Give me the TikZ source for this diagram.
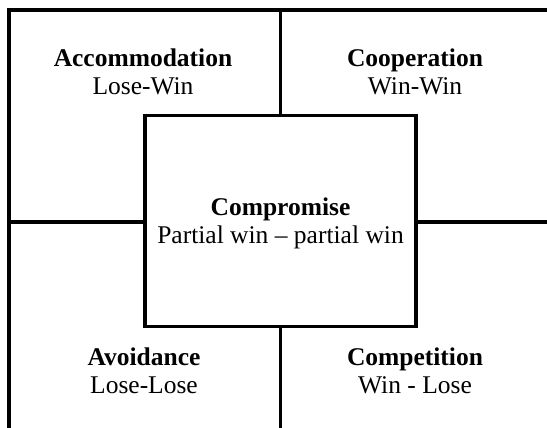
\documentclass[tikz,border=0pt]{standalone}
\usepackage{fontspec}
\setmainfont{Liberation Serif}
\begin{document}
\begin{tikzpicture}[x=1pt,y=-1pt,
  frameline/.style={line width=3.8pt},
  divline/.style={line width=3.4pt},
  title/.style={font=\fontsize{25.5}{28}\selectfont\bfseries, anchor=base, inner sep=0pt},
  sub/.style={font=\fontsize{25.5}{28}\selectfont, anchor=base, inner sep=0pt},
  centerbox/.style={draw, line width=3.4pt, minimum width=271pt, minimum height=211pt, inner sep=0pt}]
\useasboundingbox (0,0) rectangle (547,428);
% outer frame (top and left only)
\coordinate (tl) at (9,9.8);
\coordinate (tr) at (547,9.8);
\coordinate (bl) at (9,428);
\draw[frameline] (tr) -- (tl) -- (bl);
% center box
\node[centerbox] (comp) at (280.5,221.2) {};
% dividers
\coordinate (vtop) at (280.5,9.8);
\coordinate (vbot) at (280.5,428);
\coordinate (hleft) at (9,222);
\coordinate (hright) at (547,222);
\draw[divline] (vtop) -- (comp.north);
\draw[divline] (comp.south) -- (vbot);
\draw[divline] (hleft) -- (comp.west |- hleft);
\draw[divline] (comp.east |- hright) -- (hright);
% texts
\node[title] (accT) at (143,67) {Accommodation};
\node[sub] (accS) at (143,95) {Lose-Win};
\node[title] (coopT) at (415,67) {Cooperation};
\node[sub] (coopS) at (415,95) {Win-Win};
\node[title] (compT) at (280.5,215) {Compromise};
\node[sub] (compS) at (280.5,243) {Partial win – partial win};
\node[title] (avoT) at (144,365) {Avoidance};
\node[sub] (avoS) at (144,393) {Lose-Lose};
\node[title] (cptT) at (415,365) {Competition};
\node[sub] (cptS) at (415,393) {Win - Lose};
\end{tikzpicture}
\end{document}
